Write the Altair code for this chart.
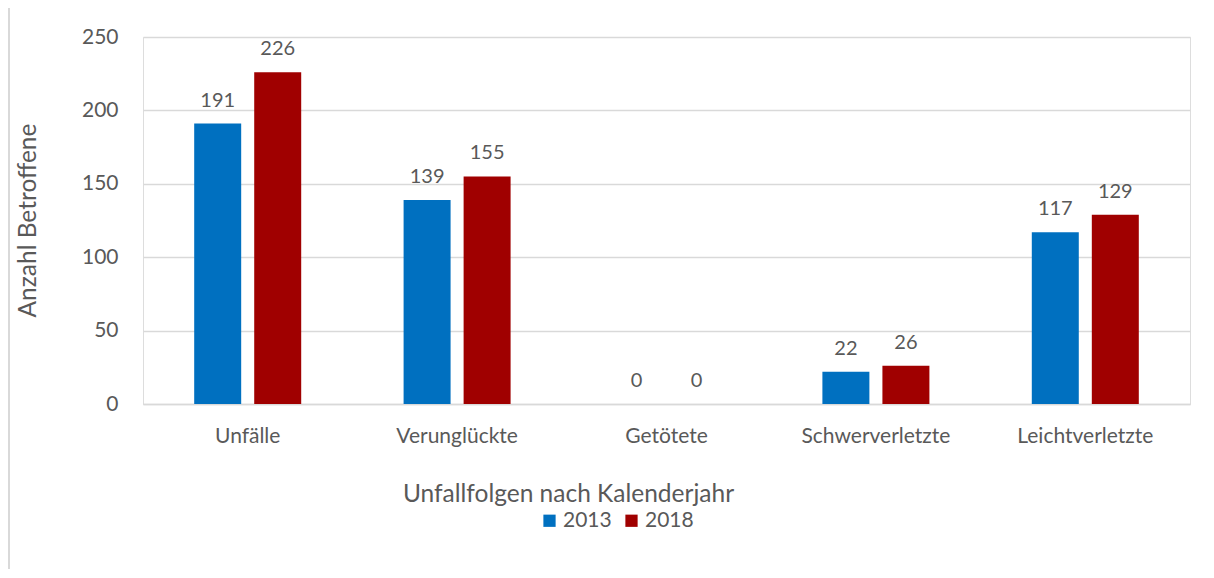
import altair as alt
import pandas as pd

categories = ["Unfälle", "Verunglückte", "Getötete", "Schwerverletzte", "Leichtverletzte"]
years = ["2013", "2018"]
values_2013 = [191, 139, 0, 22, 117]
values_2018 = [226, 155, 0, 26, 129]
colors = ["#0070C0", "#A00000"]

rows = []
for c, a, b in zip(categories, values_2013, values_2018):
    rows.append({"Kategorie": c, "Jahr": "2013", "Wert": a})
    rows.append({"Kategorie": c, "Jahr": "2018", "Wert": b})
df = pd.DataFrame(rows)

FONT = "Lato"
TXT = "#595959"

x = alt.X("Kategorie:N", sort=categories,
          scale=alt.Scale(paddingInner=0, paddingOuter=0),
          axis=alt.Axis(title="Unfallfolgen nach Kalenderjahr", labelAngle=0,
                        labelFontSize=21, labelColor=TXT, labelFont=FONT,
                        labelPadding=21, ticks=False, domainColor="#d9d9d9",
                        domainWidth=1.5,
                        titleFontSize=24.5, titleFont=FONT, titleColor=TXT,
                        titleFontWeight="normal", titleX=425, titleY=90,
                        titleAlign="center", titleBaseline="middle"))
xo = alt.XOffset("Jahr:N", scale=alt.Scale(paddingInner=0.217, paddingOuter=0.853))
y = alt.Y("Wert:Q", scale=alt.Scale(domain=[0, 250]),
          axis=alt.Axis(title="Anzahl Betroffene", values=[0, 50, 100, 150, 200, 250],
                        labelFontSize=21, labelColor=TXT, labelFont=FONT,
                        labelPadding=25, ticks=False, domain=False,
                        gridColor="#d9d9d9", gridWidth=1.5,
                        titleFontSize=24.5, titleFont=FONT, titleColor=TXT,
                        titleFontWeight="normal", titleX=-115, titleY=183,
                        titleAngle=-90, titleAlign="center", titleBaseline="middle"))
color = alt.Color("Jahr:N", scale=alt.Scale(domain=years, range=colors),
                  legend=alt.Legend(title=None, orient="none", legendX=396, legendY=473,
                                    direction="horizontal", symbolType="square",
                                    symbolSize=150, symbolStrokeWidth=0,
                                    labelFontSize=21, labelColor=TXT, labelFont=FONT,
                                    columnPadding=9, labelOffset=3))

base = alt.Chart(df)
bars = base.mark_bar().encode(x=x, xOffset=xo, y=y, color=color)
labels = base.mark_text(dy=-17, baseline="alphabetic", fontSize=20, font=FONT, color=TXT).encode(
    x=x, xOffset=xo, y=y, text="Wert:Q")
frame = alt.Chart(pd.DataFrame({"a": [0]})).mark_rect(
    fill=None, stroke="#d9d9d9", strokeWidth=2).encode(
    x=alt.value(-134), x2=alt.value(1200), y=alt.value(-30), y2=alt.value(700))

chart = alt.layer(frame, bars, labels).properties(
    width=1047, height=367,
    padding={"left": 135, "top": 29, "right": 12, "bottom": 165},
    autosize=alt.AutoSizeParams(type="none"),
).configure_view(stroke=None).configure(background="white")

chart.save("out.html", embed_options={"renderer": "svg", "actions": False})
